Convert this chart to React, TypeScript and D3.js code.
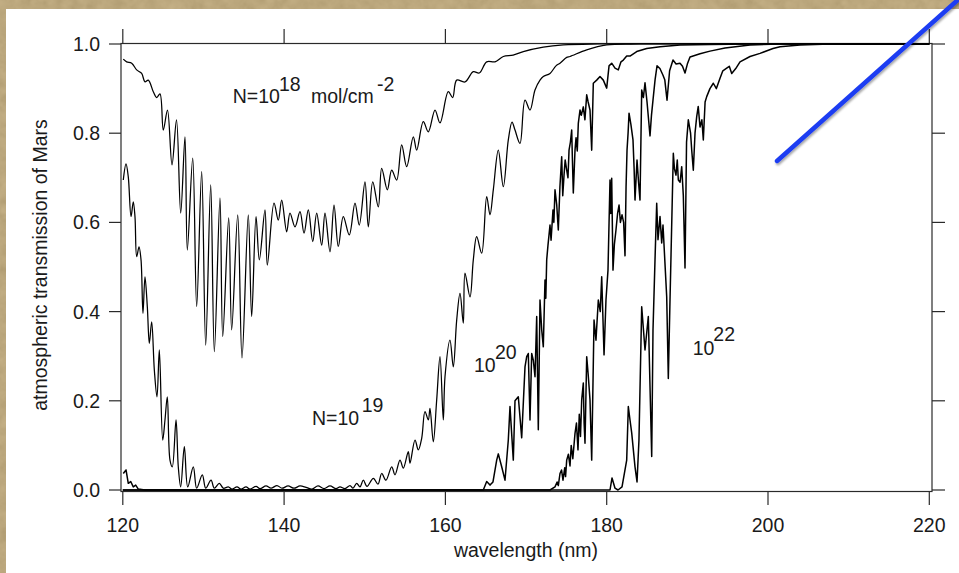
import React from 'react';
import * as d3 from 'd3';

type Pt = [number, number];

const wavelengthTicks = [120, 140, 160, 180, 200, 220];
const transmissionTicks = [0, 0.2, 0.4, 0.6, 0.8, 1.0];

// N = 1e18 mol/cm^-2
const n18: Pt[] = [[120.06,0.966],[120.48,0.960],[121.10,0.957],[121.72,0.942],[122.34,0.934],[122.75,0.915],[123.16,0.919],[123.78,0.893],[124.20,0.880],[124.61,0.888],[125.02,0.807],[125.54,0.852],[126.10,0.729],[126.66,0.830],[127.18,0.621],[127.71,0.792],[128.00,0.538],[128.67,0.744],[129.16,0.411],[129.78,0.714],[130.28,0.325],[130.90,0.684],[131.35,0.310],[132.05,0.655],[132.39,0.344],[133.13,0.610],[133.50,0.359],[134.25,0.617],[134.78,0.296],[135.56,0.617],[135.98,0.389],[136.52,0.613],[136.93,0.516],[137.63,0.628],[137.92,0.504],[138.75,0.643],[139.28,0.605],[139.70,0.650],[140.32,0.579],[140.73,0.621],[141.35,0.590],[141.97,0.624],[142.47,0.576],[143.00,0.628],[143.55,0.557],[144.04,0.621],[144.66,0.549],[145.07,0.621],[145.69,0.534],[146.19,0.639],[146.72,0.546],[147.34,0.613],[148.08,0.572],[148.79,0.643],[149.32,0.594],[150.03,0.691],[150.44,0.590],[150.99,0.691],[151.68,0.635],[152.10,0.721],[152.80,0.673],[153.34,0.717],[153.96,0.695],[154.58,0.774],[155.20,0.725],[156.02,0.792],[156.44,0.762],[157.26,0.826],[157.88,0.803],[158.71,0.852],[159.33,0.823],[160.36,0.893],[160.90,0.880],[161.40,0.919],[162.43,0.915],[163.46,0.938],[164.2,0.935],[165.12,0.960],[166.15,0.960],[167.18,0.972],[168.4,0.975],[169.66,0.983],[172.14,0.993],[174.62,0.998],[179.17,1.0],[220,1.0]];

// N = 1e19
const n19: Pt[] = [[120.06,0.695],[120.40,0.731],[120.68,0.702],[121.02,0.613],[121.30,0.646],[121.51,0.613],[121.72,0.523],[122.01,0.545],[122.26,0.516],[122.50,0.396],[122.75,0.478],[123.04,0.411],[123.29,0.329],[123.58,0.377],[123.91,0.269],[124.24,0.209],[124.53,0.314],[124.95,0.112],[125.23,0.157],[125.52,0.209],[125.85,0.067],[126.14,0.052],[126.60,0.157],[126.88,0.052],[127.18,0.007],[127.63,0.097],[128.05,0.007],[128.74,0.052],[129.16,0.004],[129.86,0.034],[130.28,0.004],[130.94,0.022],[131.35,0.004],[131.97,0.015],[132.46,0.004],[133.08,0.007],[133.54,0.002],[134.16,0.007],[134.66,0.002],[135.28,0.007],[135.77,0.002],[136.52,0.008],[137.01,0.003],[137.76,0.009],[138.38,0.004],[139.12,0.010],[139.74,0.004],[140.49,0.009],[141.23,0.004],[141.97,0.009],[142.72,0.006],[143.46,0.002],[144.20,0.009],[144.95,0.003],[145.69,0.009],[146.44,0.003],[146.93,0.007],[147.55,0.003],[148.17,0.010],[148.54,0.004],[149.00,0.015],[149.41,0.007],[149.82,0.022],[150.28,0.008],[151.06,0.026],[151.64,0.013],[152.10,0.037],[152.63,0.022],[153.34,0.052],[153.75,0.034],[154.37,0.067],[154.78,0.049],[155.40,0.086],[155.61,0.060],[156.23,0.112],[156.64,0.090],[157.06,0.116],[157.47,0.176],[157.88,0.157],[158.09,0.183],[158.50,0.108],[158.92,0.202],[159.33,0.299],[159.74,0.157],[159.95,0.254],[160.57,0.336],[160.98,0.276],[161.40,0.381],[161.81,0.441],[162.22,0.374],[162.43,0.486],[163.05,0.433],[163.46,0.516],[163.88,0.568],[164.50,0.531],[165.12,0.658],[165.53,0.617],[165.94,0.673],[166.56,0.762],[167.18,0.680],[167.80,0.785],[168.26,0.825],[168.63,0.807],[169.25,0.777],[169.87,0.874],[170.49,0.852],[171.11,0.897],[171.73,0.919],[172.14,0.927],[172.97,0.934],[173.71,0.951],[174.21,0.957],[175.04,0.970],[175.45,0.972],[177.52,0.987],[180.00,0.998],[184.13,1.0],[220,1.0]];

// N = 1e20
const n20: Pt[] = [[120.06,0.037],[120.40,0.045],[120.68,0.015],[120.98,0.019],[121.30,0.007],[121.60,0.011],[121.92,0.002],[122.75,0],[164.70,0],[165.12,0.019],[165.53,0.011],[165.90,0.018],[166.36,0.067],[166.56,0.081],[166.98,0.052],[167.39,0.022],[167.80,0.112],[168.01,0.187],[168.42,0.067],[168.63,0.200],[169.04,0.209],[169.46,0.117],[169.87,0.276],[170.08,0.299],[170.28,0.306],[170.49,0.157],[170.70,0.306],[170.90,0.291],[171.11,0.254],[171.32,0.389],[171.52,0.135],[171.73,0.426],[171.94,0.359],[172.14,0.321],[172.35,0.471],[172.45,0.430],[172.56,0.516],[172.72,0.549],[172.97,0.594],[173.10,0.560],[173.34,0.628],[173.45,0.600],[173.59,0.673],[173.80,0.640],[174.00,0.583],[174.20,0.680],[174.42,0.747],[174.55,0.660],[174.71,0.706],[174.85,0.740],[175.04,0.717],[175.20,0.700],[175.33,0.762],[175.50,0.780],[175.66,0.807],[175.75,0.740],[175.86,0.666],[176.07,0.762],[176.20,0.790],[176.35,0.760],[176.48,0.822],[176.69,0.852],[176.85,0.840],[177.10,0.859],[177.30,0.830],[177.52,0.886],[177.70,0.870],[177.93,0.852],[178.14,0.762],[178.34,0.912],[178.76,0.919],[179.17,0.927],[179.58,0.919],[180.00,0.901],[180.29,0.951],[180.62,0.957],[181.03,0.946],[181.44,0.942],[181.77,0.960],[182.06,0.964],[182.48,0.973],[182.89,0.973],[183.72,0.983],[184.96,0.990],[186.61,0.994],[189.09,0.998],[192.81,0.999],[197.77,1.0],[220,1.0]];

// N = 1e21
const n21: Pt[] = [[120,0],[172.97,0],[173.59,0.007],[173.85,0.018],[174.00,0.010],[174.21,0.037],[174.40,0.045],[174.58,0.022],[174.80,0.050],[174.90,0.030],[175.04,0.067],[175.25,0.080],[175.45,0.054],[175.60,0.100],[175.80,0.070],[176.07,0.127],[176.25,0.150],[176.44,0.090],[176.60,0.170],[176.75,0.120],[176.90,0.202],[177.10,0.240],[177.20,0.150],[177.31,0.105],[177.52,0.299],[177.70,0.260],[177.93,0.202],[178.14,0.067],[178.43,0.381],[178.67,0.336],[178.96,0.426],[179.20,0.400],[179.38,0.478],[179.67,0.303],[179.91,0.426],[180.16,0.493],[180.41,0.695],[180.50,0.620],[180.62,0.699],[180.78,0.493],[180.95,0.550],[181.15,0.583],[181.35,0.620],[181.53,0.639],[181.70,0.600],[181.90,0.617],[182.10,0.600],[182.27,0.525],[182.40,0.680],[182.52,0.762],[182.65,0.800],[182.77,0.845],[183.00,0.820],[183.26,0.785],[183.40,0.720],[183.51,0.650],[183.76,0.740],[183.95,0.690],[184.13,0.650],[184.34,0.897],[184.55,0.880],[184.75,0.913],[185.00,0.870],[185.37,0.794],[185.55,0.840],[185.74,0.874],[186.00,0.920],[186.24,0.951],[186.60,0.945],[186.98,0.930],[187.20,0.920],[187.48,0.874],[187.80,0.940],[188.22,0.964],[188.60,0.955],[189.09,0.957],[189.40,0.950],[189.71,0.935],[190.00,0.955],[190.33,0.971],[191.57,0.978],[192.81,0.984],[194.67,0.991],[197.77,0.998],[201.49,1.0],[220,1.0]];

// N = 1e22
const n22: Pt[] = [[120,0],[180.41,0],[180.66,0.027],[181.03,0.004],[181.40,0],[181.90,0.007],[182.48,0.067],[182.68,0.187],[182.89,0.157],[183.10,0.128],[183.51,0.052],[183.76,0.018],[184.00,0.112],[184.34,0.411],[184.75,0.314],[185.16,0.389],[185.58,0.075],[185.74,0.359],[185.99,0.516],[186.20,0.643],[186.36,0.561],[186.61,0.613],[186.82,0.554],[186.98,0.594],[187.44,0.433],[187.64,0.250],[187.85,0.426],[188.26,0.755],[188.40,0.720],[188.59,0.706],[188.75,0.740],[188.88,0.695],[189.10,0.690],[189.30,0.725],[189.50,0.660],[189.71,0.498],[189.90,0.780],[190.12,0.830],[190.40,0.800],[190.55,0.760],[190.74,0.717],[190.95,0.800],[191.16,0.837],[191.35,0.860],[191.57,0.814],[191.80,0.830],[191.98,0.785],[192.20,0.870],[192.40,0.882],[192.80,0.900],[193.22,0.912],[193.60,0.900],[194.05,0.923],[194.40,0.940],[194.88,0.946],[195.20,0.950],[195.50,0.934],[196.00,0.945],[196.53,0.960],[197.77,0.972],[199.01,0.979],[200.62,0.990],[201.49,0.994],[203.97,0.998],[207.69,1.0],[220,1.0]];

const smoothCurves = [n18, n19];
const denseCurves = [n20, n21, n22];

export default function App() {
  const W = 959, H = 573;
  const x = d3.scaleLinear().domain([120, 220]).range([122.8, 929.3]);
  const y = d3.scaleLinear().domain([0, 1]).range([490, 44]);
  const smoothLine = d3.line<Pt>().x(d => x(d[0])).y(d => y(d[1])).curve(d3.curveCatmullRom.alpha(0.5));
  const line = d3.line<Pt>().x(d => x(d[0])).y(d => y(d[1]));
  const font = "'Liberation Sans', Arial, Helvetica, sans-serif";
  const fs = 19.5;
  const left = 121, right = 932, top = 43.5, bottom = 491.5;
  const axisColor = '#2a2a2a';
  const textColor = '#1a1a1a';
  const fmt = d3.format('.1f');

  return (
    <div style={{ position: 'fixed', left: 0, top: 0, width: W, height: H }}>
      <svg width={W} height={H} style={{ display: 'block' }}>
        <defs>
          <filter id="tex" x="0" y="0" width="100%" height="100%">
            <feTurbulence type="fractalNoise" baseFrequency="0.09" numOctaves="3" seed="4" />
            <feColorMatrix type="matrix" values="0.33 0.33 0.33 0 0 0.33 0.33 0.33 0 0 0.33 0.33 0.33 0 0 0 0 0 0 1" />
          </filter>
          <filter id="shadow" x="-10%" y="-10%" width="130%" height="130%">
            <feDropShadow dx="1" dy="2" stdDeviation="1.2" floodColor="#000" floodOpacity="0.35" />
          </filter>
        </defs>
        <rect x={0} y={0} width={W} height={H} fill="#bca26c" />
        <rect x={0} y={0} width={W} height={H} filter="url(#tex)" opacity={0.22} />
        <rect x={6} y={9} width={W - 6} height={H - 9} fill="#ffffff" />

        {/* frame */}
        <rect x={left} y={top} width={right - left} height={bottom - top} fill="none" stroke={axisColor} strokeWidth={1.2} />

        {/* ticks */}
        {transmissionTicks.map(t => (
          <g key={'yt' + t}>
            <line x1={109} x2={left} y1={y(t)} y2={y(t)} stroke={axisColor} strokeWidth={1.2} />
            <line x1={right} x2={945} y1={y(t)} y2={y(t)} stroke={axisColor} strokeWidth={1.2} />
            <text x={100} y={y(t) + 7} textAnchor="end" fontFamily={font} fontSize={fs} fill={textColor}>{fmt(t)}</text>
          </g>
        ))}
        {wavelengthTicks.map(w => (
          <g key={'xt' + w}>
            <line x1={x(w)} x2={x(w)} y1={bottom} y2={505} stroke={axisColor} strokeWidth={1.2} />
            <line x1={x(w)} x2={x(w)} y1={29} y2={top} stroke={axisColor} strokeWidth={1.2} />
            <text x={x(w)} y={532} textAnchor="middle" fontFamily={font} fontSize={fs} fill={textColor}>{w}</text>
          </g>
        ))}

        {/* curves */}
        <g fill="none" stroke="#000" strokeLinejoin="round">
          {smoothCurves.map((c, i) => <path key={'s' + i} d={smoothLine(c) || ''} strokeWidth={1.25} />)}
          {denseCurves.map((c, i) => <path key={'d' + i} d={line(c) || ''} strokeWidth={1.5} />)}
        </g>

        {/* axis titles */}
        <text x={526} y={557} textAnchor="middle" fontFamily={font} fontSize={fs} fill={textColor}>wavelength (nm)</text>
        <text transform="translate(46.5,265) rotate(-90)" textAnchor="middle" fontFamily={font} fontSize={fs} fill={textColor}>atmospheric transmission of Mars</text>

        {/* annotations */}
        <g fontFamily={font} fontSize={fs} fill={textColor}>
          <text x={232.7} y={102.7}>N=10</text>
          <text x={279} y={90.5}>18</text>
          <text x={311} y={102.7}>mol/cm</text>
          <text x={377} y={90.5}>-2</text>

          <text x={312} y={425}>N=10</text>
          <text x={361.7} y={411.7}>19</text>

          <text x={474} y={372}>10</text>
          <text x={495} y={358.5}>20</text>

          <text x={692.7} y={355}>10</text>
          <text x={713.3} y={341}>22</text>
        </g>

        {/* blue annotation line */}
        <line x1={777} y1={161} x2={960} y2={-2} stroke="#1c3cf2" strokeWidth={4.4} strokeLinecap="round" filter="url(#shadow)" />
      </svg>
    </div>
  );
}
